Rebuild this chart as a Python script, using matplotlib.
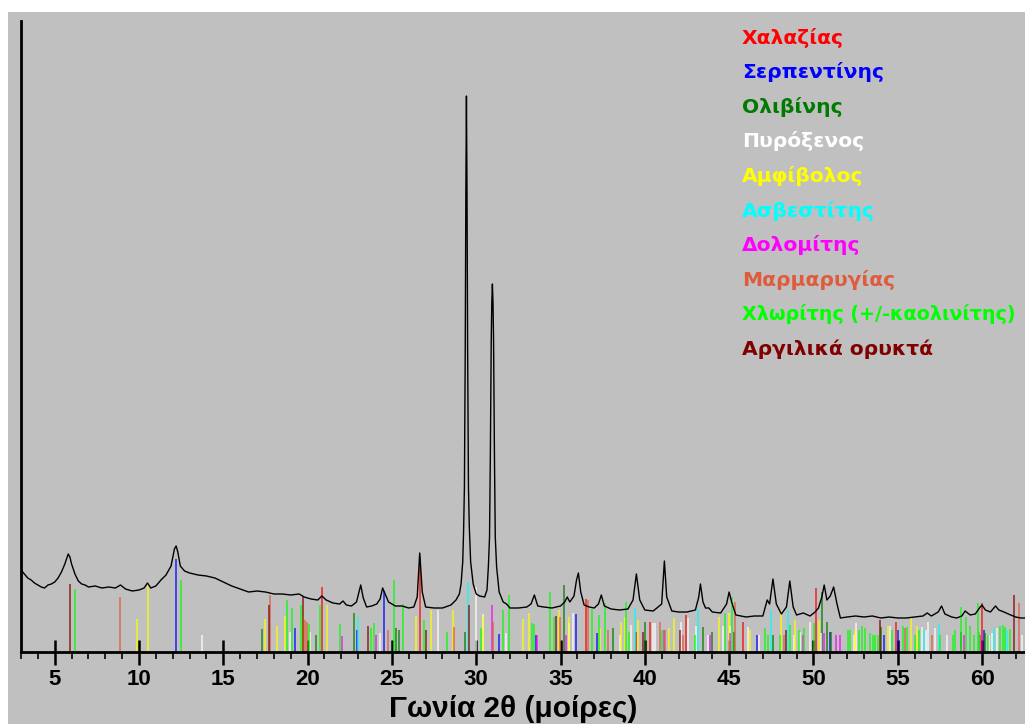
import matplotlib
matplotlib.use("Agg")
import matplotlib.pyplot as plt
from matplotlib.patches import Rectangle
from matplotlib.ticker import MultipleLocator

# diffractogram trace (2theta in degrees, intensity in arbitrary counts)
two_theta = [3.0, 3.2, 3.4, 3.6, 3.8, 4.0, 4.2, 4.4, 4.6, 4.8, 5.0, 5.2, 5.4, 5.6, 5.8, 5.9,
             6.0, 6.2, 6.4, 6.6, 6.8, 7.0, 7.4, 7.8, 8.2, 8.6, 8.9, 9.2, 9.6, 10.0, 10.3, 10.5,
             10.7, 11.0, 11.3, 11.6, 11.9, 12.1, 12.2, 12.3, 12.45, 12.7, 13.0, 13.5, 14.0, 14.5,
             15.0, 15.5, 16.0, 16.5, 17.0, 17.5, 18.0, 18.5, 19.0, 19.5, 19.8, 20.2, 20.6, 20.85,
             21.1, 21.5, 21.9, 22.1, 22.3, 22.6, 22.9, 23.05, 23.15, 23.3, 23.5, 23.8, 24.1, 24.3,
             24.45, 24.6, 24.8, 25.2, 25.6, 26.0, 26.3, 26.5, 26.65, 26.8, 27.0, 27.5, 28.0, 28.5,
             28.8, 29.0, 29.1, 29.2, 29.25, 29.3, 29.35, 29.385, 29.42, 29.455, 29.49, 29.54,
             29.59, 29.67, 29.82, 30.0, 30.2, 30.5, 30.64, 30.72, 30.79, 30.84, 30.89, 30.925,
             30.96, 30.995, 31.03, 31.08, 31.13, 31.21, 31.36, 31.6, 31.8, 32.0, 32.5, 33.0, 33.25,
             33.45, 33.65, 34.0, 34.5, 35.0, 35.25, 35.4, 35.55, 35.8, 35.95, 36.06, 36.2, 36.4,
             36.7, 37.0, 37.25, 37.42, 37.6, 38.0, 38.5, 39.0, 39.3, 39.5, 39.7, 40.0, 40.5, 41.0,
             41.16, 41.3, 41.6, 42.0, 42.5, 43.0, 43.2, 43.3, 43.45, 43.6, 43.8, 44.0, 44.5, 44.85,
             45.0, 45.15, 45.4, 46.0, 46.5, 47.0, 47.26, 47.4, 47.6, 47.8, 48.1, 48.4, 48.6, 48.8,
             49.0, 49.4, 49.8, 50.1, 50.3, 50.5, 50.64, 50.8, 51.0, 51.2, 51.4, 51.6, 52.0, 52.5,
             53.0, 53.5, 54.0, 54.5, 55.0, 55.5, 56.0, 56.5, 56.75, 57.0, 57.4, 57.6, 57.8, 58.2,
             58.5, 58.8, 59.0, 59.3, 59.6, 59.85, 60.0, 60.2, 60.5, 60.8, 61.0, 61.3, 61.7, 62.0,
             62.3, 62.55]
intensity = [82, 78, 74, 72, 69, 67, 65, 64, 67, 68, 70, 74, 80, 88, 98, 95,
             88, 78, 71, 68, 67, 65, 66, 64, 65, 64, 67, 63, 61, 62, 64, 69,
             64, 66, 72, 77, 86, 103, 106, 100, 86, 81, 79, 77, 76, 74,
             70, 66, 63, 60, 61, 60, 58, 58, 57, 58, 55, 53, 52, 56,
             52, 49, 48, 51, 47, 46, 50, 60, 67, 54, 45, 46, 48, 53,
             64, 58, 50, 46, 46, 44, 45, 55, 99, 60, 45, 44, 44, 47,
             52, 58, 68, 90, 120, 165, 305, 460, 556, 460, 305, 165,
             125, 90, 68, 58, 56, 55, 62, 85, 115, 200, 310, 350,
             368, 350, 310, 200, 115, 85, 60, 50, 48, 44, 44, 45, 48,
             57, 46, 45, 44, 46, 50, 55, 50, 56, 72, 79, 60, 47,
             45, 44, 48, 57, 46, 43, 42, 43, 52, 78, 52, 42, 41, 48,
             91, 55, 41, 40, 40, 42, 55, 68, 50, 44, 44, 40, 39, 48,
             60, 50, 37, 35, 36, 36, 52, 48, 73, 48, 38, 45, 71, 45,
             37, 39, 36, 40, 44, 55, 67, 52, 56, 65, 48, 34, 35, 36,
             35, 36, 34, 35, 34, 34, 35, 36, 39, 36, 40, 46, 38, 35,
             34, 36, 41, 37, 38, 44, 47, 42, 40, 46, 42, 40, 37, 35,
             34, 34]

# reference stick patterns (position, relative height)
quartz_pos = [20.85, 26.65, 36.54, 39.47, 40.29, 42.46, 45.8, 50.15, 54.88, 59.99]
quartz_h = [65, 95, 53, 20, 30, 37, 30, 64, 30, 49]
serp_pos = [12.2, 19.27, 22.9, 24.56, 31.36, 33.57, 35.94, 37.17, 46.65, 51.0, 54.16, 55.0, 60.09]
serp_h = [93, 24, 22, 61, 18, 17, 38, 19, 17, 20, 17, 22, 22]
oliv_pos = [17.31, 20.49, 22.78, 25.25, 25.4, 29.36, 35.19, 38.12, 39.99, 43.45, 43.98, 45.27,
            47.6, 50.51, 50.8, 51.06, 54.02, 58.76, 60.19]
oliv_h = [23, 17, 39, 24, 22, 20, 67, 24, 30, 25, 20, 20, 17, 60, 30, 20, 25, 20, 19]
pyr_pos = [13.75, 18.95, 20.13, 24.27, 27.72, 29.96, 30.4, 31.79, 35.53, 35.75, 38.51, 39.18,
           40.49, 40.63, 42.17, 42.54, 43.06, 43.73, 44.64, 45.03, 46.1, 46.75, 48.82, 49.22,
           49.77, 50.47, 52.38, 52.54, 54.56, 56.47, 56.67, 56.82, 57.22, 57.92, 60.44, 60.58,
           60.88, 62.36]
pyr_h = [17, 20, 20, 19, 42, 65, 38, 19, 29, 39, 17, 27, 29, 29, 30, 34, 26, 17, 26, 26, 25, 17,
         17, 20, 30, 19, 17, 29, 26, 25, 22, 30, 24, 17, 17, 19, 24, 17]
amph_pos = [9.86, 10.55, 17.49, 18.2, 18.65, 19.7, 21.17, 26.4, 27.29, 28.63, 30.39, 32.78,
            33.12, 34.9, 35.49, 37.37, 38.59, 38.8, 39.6, 41.41, 41.75, 44.38, 44.97, 46.22,
            48.09, 48.88, 50.31, 52.48, 54.42, 55.78, 56.14]
amph_h = [33, 68, 33, 26, 36, 35, 47, 36, 42, 42, 36, 33, 39, 42, 35, 24, 30, 35, 32, 24, 34,
          35, 39, 22, 41, 32, 32, 22, 26, 35, 26]
calc_pos = [23.0, 29.5, 39.44, 43.15, 47.48, 48.52, 56.57, 57.42, 60.73, 61.47]
calc_h = [35, 70, 44, 43, 42, 42, 22, 29, 24, 22]
dolo_pos = [22.05, 24.07, 30.96, 33.6, 35.35, 41.16, 43.84, 45.03, 49.38, 50.6, 51.35, 51.59,
            58.96, 59.89]
dolo_h = [16, 17, 47, 17, 17, 22, 17, 19, 17, 19, 17, 17, 17, 17]
mica_pos = [8.86, 17.76, 19.82, 19.94, 24.76, 28.71, 31.02, 34.99, 36.61, 37.8, 40.88, 41.22,
            42.27, 45.37, 48.23, 55.44, 57.03, 62.17]
mica_h = [55, 57, 32, 30, 22, 25, 30, 35, 52, 22, 30, 22, 17, 50, 17, 24, 17, 49]
chlo_pos = [6.22, 12.5, 18.79, 19.1, 19.58, 20.07, 20.73, 21.91, 23.73, 23.95, 25.15, 25.64,
            26.89, 28.28, 30.29, 31.6, 31.93, 33.28, 33.41, 34.4, 34.6, 36.87, 37.27, 37.66,
            38.9, 39.04, 41.02, 42.96, 44.78, 45.2, 47.1, 47.28, 48.03, 48.63, 49.12, 49.42,
            50.05, 52.08, 52.18, 52.68, 52.88, 53.07, 53.37, 53.51, 53.67, 53.83, 54.65, 55.34,
            55.54, 56.04, 56.29, 57.52, 58.25, 58.37, 58.77, 59.06, 59.3, 59.53, 59.76, 59.85,
            60.38, 61.07, 61.27, 61.37, 61.67]
chlo_h = [63, 72, 52, 44, 47, 28, 47, 28, 24, 29, 72, 48, 32, 20, 24, 42, 57, 29, 28, 60, 35,
          43, 37, 49, 50, 20, 22, 17, 39, 55, 24, 17, 17, 27, 22, 24, 29, 22, 22, 22, 26, 24,
          19, 17, 17, 17, 22, 26, 25, 17, 22, 17, 17, 22, 45, 35, 26, 17, 49, 20, 17, 26, 27,
          25, 23]
clay_pos = [5.89, 17.7, 19.74, 23.6, 27.03, 29.58, 34.76, 39.9, 42.07, 48.39, 53.96, 61.87]
clay_h = [68, 47, 56, 26, 22, 47, 36, 20, 22, 22, 32, 57]

minerals = ["Χαλαζίας", "Σερπεντίνης", "Ολιβίνης", "Πυρόξενος", "Αμφίβολος",
            "Ασβεστίτης", "Δολομίτης", "Μαρμαρυγίας", "Χλωρίτης (+/-καολινίτης)",
            "Αργιλικά ορυκτά"]
colors = ["#ff0000", "#0000ff", "#007a00", "#ffffff", "#ffff00",
          "#00ffff", "#ff00ff", "#e05a3c", "#00ff00", "#800000"]
sticks = [(quartz_pos, quartz_h), (serp_pos, serp_h), (oliv_pos, oliv_h), (pyr_pos, pyr_h),
          (amph_pos, amph_h), (calc_pos, calc_h), (dolo_pos, dolo_h), (mica_pos, mica_h),
          (chlo_pos, chlo_h), (clay_pos, clay_h)]

fig = plt.figure(figsize=(10.25, 7.24), dpi=100, facecolor="white")
fig.patches.append(Rectangle((8 / 1025, 0), 1, 1 - 12 / 724, transform=fig.transFigure,
                             facecolor="#c0c0c0", edgecolor="none", zorder=-10))

ax = fig.add_axes([21 / 1025, 72 / 724, 1004 / 1025, 631 / 724])
ax.set_facecolor("#c0c0c0")

for (pos, h), c in zip(sticks, colors):
    ax.vlines(pos, 0, h, colors=c, lw=1.3, alpha=0.7, zorder=2)

ax.plot(two_theta, intensity, color="black", lw=1.0, zorder=3)

ax.set_xlim(3.0, 62.55)
ax.set_ylim(0, 631)
ax.spines["top"].set_visible(False)
ax.spines["right"].set_visible(False)
ax.spines["left"].set_linewidth(2)
ax.spines["bottom"].set_linewidth(2)
ax.set_yticks([])
ax.xaxis.set_major_locator(MultipleLocator(5))
ax.xaxis.set_minor_locator(MultipleLocator(1))
ax.tick_params(axis="x", which="major", direction="inout", length=18, width=1.8, pad=3)
ax.tick_params(axis="x", which="minor", direction="out", length=5, width=1.2)

sans = ["Liberation Sans", "DejaVu Sans"]
for lab in ax.get_xticklabels():
    lab.set_family(sans)
    lab.set_fontweight("bold")
    lab.set_fontsize(16)
ax.set_xlabel("Γωνία 2θ (μοίρες)", family=sans, fontweight="bold", fontsize=21.5)
ax.xaxis.set_label_coords(0.49, -0.068)

for i, (name, c) in enumerate(zip(minerals, colors)):
    size = 13.8 if name.startswith("Χλωρίτης") else 14.6
    fig.text(742 / 1025, 1 - (43.5 + 34.6 * i) / 724, name, color=c, fontsize=size,
             fontweight="bold", family="DejaVu Sans", va="baseline")

fig.savefig("out.png", dpi=100, facecolor=fig.get_facecolor())
